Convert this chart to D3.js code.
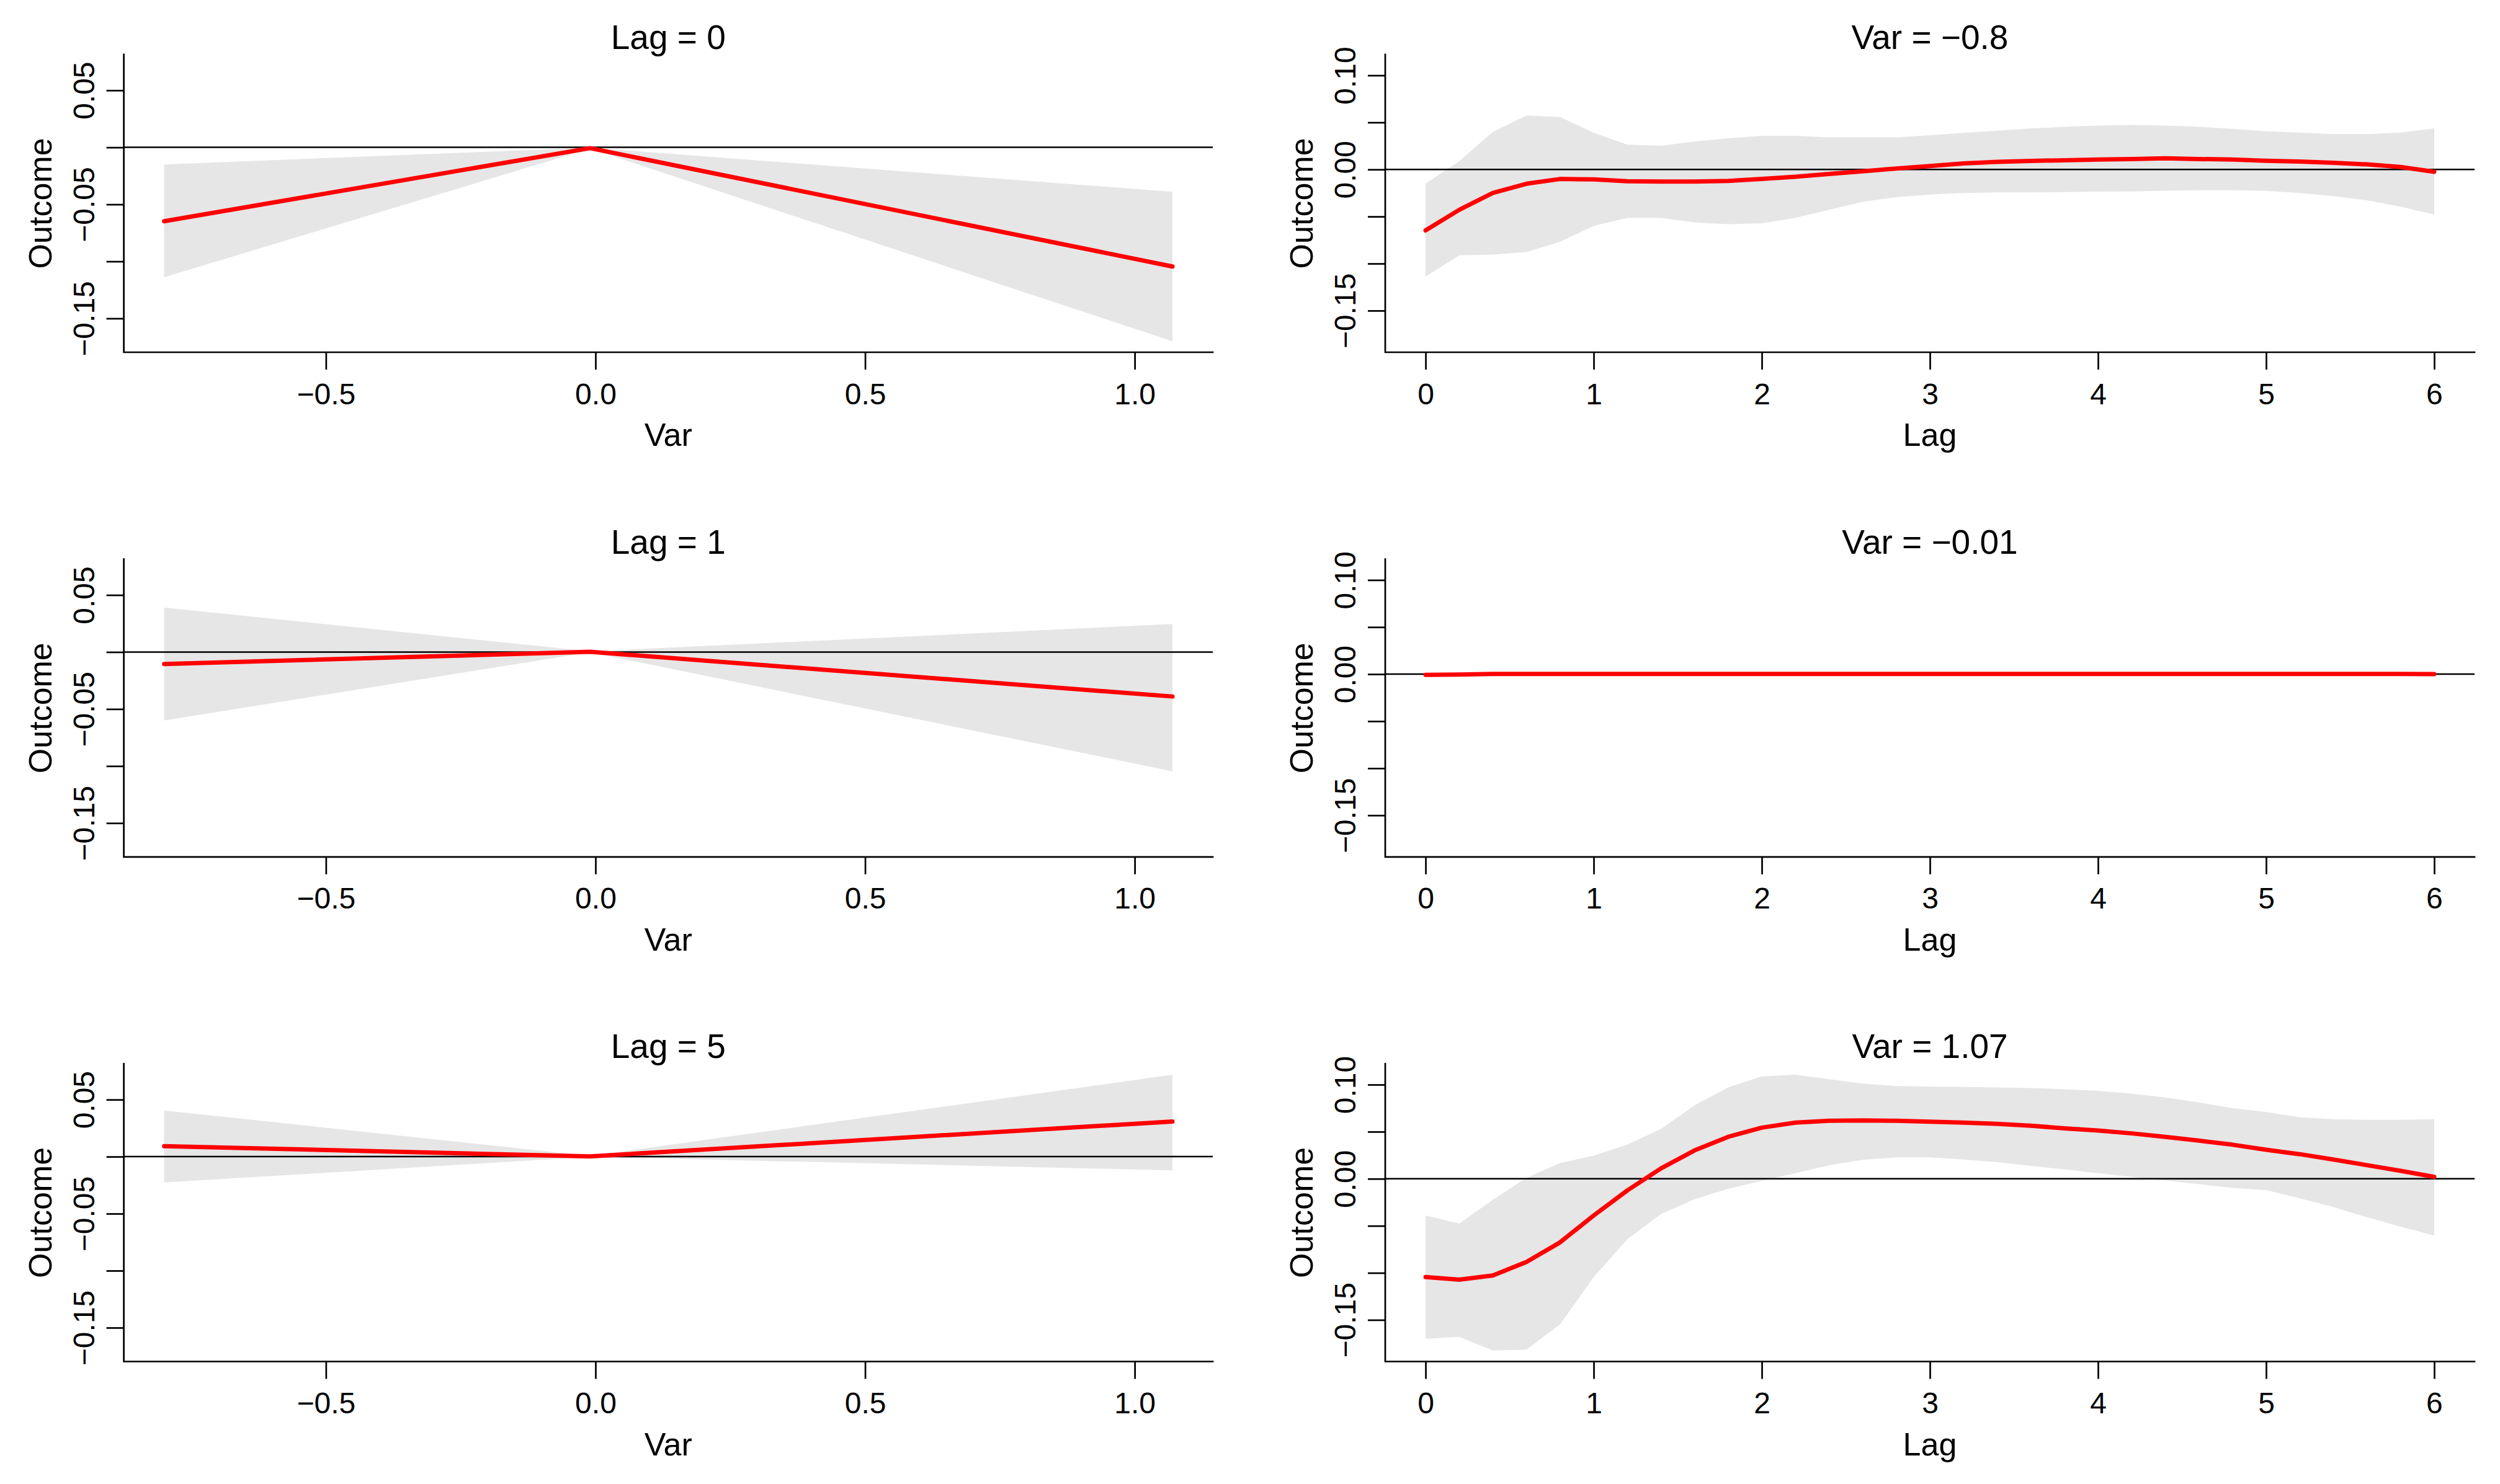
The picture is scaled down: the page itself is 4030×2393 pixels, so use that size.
<!DOCTYPE html>
<html><head><meta charset="utf-8">
<script src="https://cdn.jsdelivr.net/npm/d3@7"></script>
<style>
html,body{margin:0;padding:0;background:#fff;}
svg{display:block;}
text{font-family:"Liberation Sans",Arial,Helvetica,sans-serif;fill:#000;}
</style>
</head><body>
<svg id="chart" width="4030" height="2393"></svg>
<script>
// ---------- DATA ----------
const lags = [0,0.2,0.4,0.6,0.8,1,1.2,1.4,1.6,1.8,2,2.2,2.4,2.6,2.8,3,3.2,3.4,3.6,3.8,4,4.2,4.4,4.6,4.8,5,5.2,5.4,5.6,5.8,6];
const varPoints = [-0.8, -0.01, 1.07];

// Left column: effect across Var at fixed lag
const fitLag0  = [-0.0648, -0.0007, -0.1045];
const lowLag0  = [-0.1139, -0.0011, -0.1700];
const highLag0 = [-0.0150, -0.0003, -0.0390];
const fitLag1  = [-0.0105, 0.0002, -0.0390];
const lowLag1  = [-0.0600, -0.0002, -0.1046];
const highLag1 = [0.0390, 0.0006, 0.0245];
const fitLag5  = [0.0092, 0.0002, 0.0308];
const lowLag5  = [-0.0227, -0.0002, -0.0120];
const highLag5 = [0.0405, 0.0006, 0.0718];

// Right column: effect across lag at fixed Var
const fitVarM08  = [-0.0648,-0.0429,-0.0250,-0.0152,-0.0101,-0.0105,-0.0125,-0.0128,-0.0128,-0.0122,-0.0101,-0.0078,-0.0047,-0.0020,0.0010,0.0037,0.0064,0.0081,0.0091,0.0098,0.0105,0.0111,0.0118,0.0111,0.0105,0.0092,0.0084,0.0071,0.0054,0.0027,-0.0024];
const lowVarM08  = [-0.1139,-0.0912,-0.0905,-0.0878,-0.0767,-0.0600,-0.0514,-0.0514,-0.0564,-0.0581,-0.0571,-0.0514,-0.0429,-0.0345,-0.0294,-0.0267,-0.0250,-0.0243,-0.0243,-0.0240,-0.0236,-0.0233,-0.0226,-0.0220,-0.0220,-0.0227,-0.0250,-0.0284,-0.0328,-0.0395,-0.0480];
const highVarM08 = [-0.0150,0.0088,0.0399,0.0574,0.0557,0.0390,0.0264,0.0253,0.0297,0.0331,0.0358,0.0358,0.0341,0.0341,0.0341,0.0365,0.0389,0.0412,0.0436,0.0453,0.0466,0.0473,0.0466,0.0453,0.0432,0.0405,0.0392,0.0375,0.0375,0.0392,0.0436];

const fitVarM001  = [-0.0007,-0.0005,0.0002,0.0002,0.0002,0.0002,0.0002,0.0002,0.0002,0.0002,0.0002,0.0002,0.0002,0.0002,0.0002,0.0002,0.0002,0.0002,0.0002,0.0002,0.0002,0.0002,0.0002,0.0002,0.0002,0.0002,0.0002,0.0002,0.0002,0.0002,0.0001];
const lowVarM001  = [-0.0011,-0.0009,-0.0002,-0.0002,-0.0002,-0.0002,-0.0002,-0.0002,-0.0002,-0.0002,-0.0002,-0.0002,-0.0002,-0.0002,-0.0002,-0.0002,-0.0002,-0.0002,-0.0002,-0.0002,-0.0002,-0.0002,-0.0002,-0.0002,-0.0002,-0.0002,-0.0002,-0.0002,-0.0002,-0.0002,-0.0003];
const highVarM001 = [-0.0003,-0.0001,0.0006,0.0006,0.0006,0.0006,0.0006,0.0006,0.0006,0.0006,0.0006,0.0006,0.0006,0.0006,0.0006,0.0006,0.0006,0.0006,0.0006,0.0006,0.0006,0.0006,0.0006,0.0006,0.0006,0.0006,0.0006,0.0006,0.0006,0.0006,0.0005];

const fitVar107  = [-0.1045,-0.1072,-0.1028,-0.0884,-0.0676,-0.0390,-0.0124,0.0110,0.0301,0.0445,0.0543,0.0596,0.0616,0.0620,0.0616,0.0606,0.0596,0.0583,0.0563,0.0536,0.0512,0.0482,0.0445,0.0405,0.0362,0.0308,0.0261,0.0204,0.0144,0.0084,0.0020];
const lowVar107  = [-0.1700,-0.1681,-0.1825,-0.1815,-0.1547,-0.1046,-0.0643,-0.0375,-0.0218,-0.0107,-0.0023,0.0060,0.0144,0.0201,0.0228,0.0228,0.0204,0.0177,0.0137,0.0100,0.0060,0.0020,-0.0020,-0.0057,-0.0097,-0.0120,-0.0208,-0.0301,-0.0409,-0.0509,-0.0603];
const highVar107 = [-0.0390,-0.0476,-0.0224,0.0010,0.0167,0.0245,0.0362,0.0529,0.0780,0.0971,0.1088,0.1105,0.1058,0.1011,0.0985,0.0978,0.0975,0.0971,0.0964,0.0951,0.0934,0.0904,0.0864,0.0810,0.0750,0.0710,0.0653,0.0633,0.0626,0.0626,0.0633];

const leftTitles  = ["Lag = 0", "Lag = 1", "Lag = 5"];
const rightTitles = ["Var = \u22120.8", "Var = \u22120.01", "Var = 1.07"];

const xTicksVar = [-0.5, 0, 0.5, 1];
const xTickLabelsVar = ["\u22120.5", "0.0", "0.5", "1.0"];
const xTicksLag = [0, 1, 2, 3, 4, 5, 6];
const xTickLabelsLag = ["0", "1", "2", "3", "4", "5", "6"];
const yTicksLeft = [-0.15, -0.10, -0.05, 0, 0.05];
const yTickLabelsLeft = ["\u22120.15", "", "\u22120.05", "", "0.05"];
const yTicksRight = [-0.15, -0.10, -0.05, 0, 0.05, 0.10];
const yTickLabelsRight = ["\u22120.15", "", "", "0.00", "", "0.10"];

// ---------- LAYOUT ----------
const colX = [[199.6, 1955], [2233, 3989]];
const rowTop = [87.8, 901.6, 1715.3];
const plotH = 480.2;
const FS_TICK = 48, FS_LAB = 52, FS_TITLE = 55;

const svg = d3.select("#chart");

function padExtent(ext) {
  const w = ext[1] - ext[0];
  return [ext[0] - 0.04 * w, ext[1] + 0.04 * w];
}

const leftPanels = [
  {title: leftTitles[0], fit: fitLag0, low: lowLag0, high: highLag0},
  {title: leftTitles[1], fit: fitLag1, low: lowLag1, high: highLag1},
  {title: leftTitles[2], fit: fitLag5, low: lowLag5, high: highLag5}
];
const rightPanels = [
  {title: rightTitles[0], fit: fitVarM08, low: lowVarM08, high: highVarM08},
  {title: rightTitles[1], fit: fitVarM001, low: lowVarM001, high: highVarM001},
  {title: rightTitles[2], fit: fitVar107, low: lowVar107, high: highVar107}
];

function yDomain(panels) {
  const mn = d3.min(panels, p => d3.min(p.low));
  const mx = d3.max(panels, p => d3.max(p.high));
  return padExtent([mn, mx]);
}

function drawPanel(p, xs, col, row, xTicks, xLabels, yTicks, yLabels, xTitle, yDom) {
  const [L, R] = colX[col];
  const T = rowTop[row], B = T + plotH;
  const x = d3.scaleLinear().domain(padExtent(d3.extent(xs))).range([L, R]);
  const y = d3.scaleLinear().domain(yDom).range([B, T]);
  const g = svg.append("g");

  const pts = xs.map((v, i) => ({x: v, f: p.fit[i], lo: p.low[i], hi: p.high[i]}));

  // confidence band
  g.append("path").datum(pts)
    .attr("d", d3.area().x(d => x(d.x)).y0(d => y(d.lo)).y1(d => y(d.hi)))
    .attr("fill", "#e6e6e6").attr("stroke", "none");

  // zero line
  g.append("line").attr("x1", L).attr("x2", R).attr("y1", y(0)).attr("y2", y(0))
    .attr("stroke", "#000").attr("stroke-width", 2.5);

  // fitted line
  g.append("path").datum(pts)
    .attr("d", d3.line().x(d => x(d.x)).y(d => y(d.f)))
    .attr("fill", "none").attr("stroke", "#ff0000").attr("stroke-width", 7)
    .attr("stroke-linejoin", "round").attr("stroke-linecap", "round");

  // x axis ticks
  const xa = g.append("g").attr("transform", `translate(0,${B})`)
    .call(d3.axisBottom(x).tickValues(xTicks).tickSize(28)
      .tickFormat((d, i) => xLabels[i]));
  xa.select(".domain").remove();
  xa.selectAll(".tick line").attr("stroke", "#000").attr("stroke-width", 2.7);
  xa.selectAll(".tick text").attr("y", 83.7).attr("dy", null)
    .attr("font-size", FS_TICK).attr("fill", "#000")
    .style("font-family", '"Liberation Sans",Arial,sans-serif');

  // y axis ticks
  const ya = g.append("g").attr("transform", `translate(${L},0)`)
    .call(d3.axisLeft(y).tickValues(yTicks).tickSize(28)
      .tickFormat((d, i) => yLabels[i]));
  ya.select(".domain").remove();
  ya.selectAll(".tick line").attr("stroke", "#000").attr("stroke-width", 2.7);
  ya.selectAll(".tick text").attr("x", null).attr("dy", null)
    .attr("transform", "translate(-48,0) rotate(-90)")
    .attr("text-anchor", "middle")
    .attr("font-size", FS_TICK).attr("fill", "#000")
    .style("font-family", '"Liberation Sans",Arial,sans-serif');

  // L-shaped box
  g.append("path").attr("d", `M${L},${T}L${L},${B}L${R},${B}`)
    .attr("fill", "none").attr("stroke", "#000").attr("stroke-width", 2.7)
    .attr("stroke-linecap", "square");

  // title
  g.append("text").attr("x", (L + R) / 2).attr("y", T - 9)
    .attr("text-anchor", "middle").attr("font-size", FS_TITLE).text(p.title);
  // x label
  g.append("text").attr("x", (L + R) / 2).attr("y", B + 151)
    .attr("text-anchor", "middle").attr("font-size", FS_LAB).text(xTitle);
  // y label
  g.append("text").attr("transform", `translate(${L - 117},${(T + B) / 2}) rotate(-90)`)
    .attr("text-anchor", "middle").attr("font-size", FS_LAB).text("Outcome");
}

const yDomLeft = yDomain(leftPanels);
const yDomRight = yDomain(rightPanels);

leftPanels.forEach((p, i) =>
  drawPanel(p, varPoints, 0, i, xTicksVar, xTickLabelsVar, yTicksLeft, yTickLabelsLeft, "Var", yDomLeft));
rightPanels.forEach((p, i) =>
  drawPanel(p, lags, 1, i, xTicksLag, xTickLabelsLag, yTicksRight, yTickLabelsRight, "Lag", yDomRight));
</script>
</body></html>
